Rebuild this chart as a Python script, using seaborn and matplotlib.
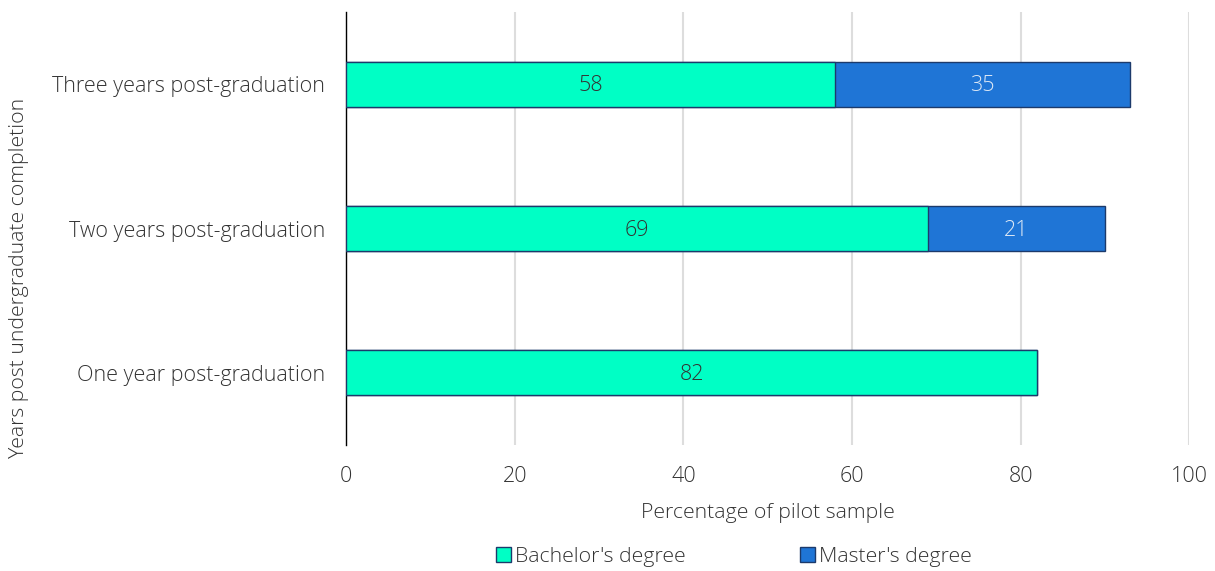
import matplotlib
matplotlib.use("Agg")
import matplotlib.pyplot as plt
import seaborn as sns
import pandas as pd
from matplotlib.patches import Patch

categories = ["Three years post-graduation", "Two years post-graduation", "One year post-graduation"]
bachelor = [58, 69, 82]
master = [35, 21, 0]
x_ticks = [0, 20, 40, 60, 80, 100]

sns.set_theme(style="white")
plt.rcParams['font.family'] = ['Open Sans', 'DejaVu Sans']
plt.rcParams['font.weight'] = 'light'
plt.rcParams['axes.labelweight'] = 'light'

c_bach = "#00FFC5"
c_mast = "#1F75D6"
edge = "#1C3A6B"
txt = "#333333"
FS = 15.5
FL = 15.3

df = pd.DataFrame({"cat": categories, "bachelor": bachelor, "master": master})
df["total"] = df["bachelor"] + df["master"]

fig = plt.figure(figsize=(12.15, 5.71), dpi=100)
ax = fig.add_axes([0.2848, 0.2207, 0.694, 0.758])

sns.barplot(data=df, x="total", y="cat", color=c_mast, orient="h", width=0.31,
            edgecolor=edge, linewidth=1, saturation=1, ax=ax, zorder=3)
sns.barplot(data=df, x="bachelor", y="cat", color=c_bach, orient="h", width=0.31,
            edgecolor=edge, linewidth=1, saturation=1, ax=ax, zorder=4)

for i, row in df.iterrows():
    ax.text(row["bachelor"] / 2, i + 0.01, f"{row['bachelor']}", ha="center", va="center",
            fontsize=FS, color=txt, fontweight="light", zorder=5)
    if row["master"] > 0:
        ax.text(row["bachelor"] + row["master"] / 2, i + 0.01, f"{row['master']}", ha="center",
                va="center", fontsize=FS, color="#DDE8F5", fontweight="light", zorder=5)

ax.set_xlim(0, 100)
ax.set_ylim(2.5, -0.5)
ax.set_xticks(x_ticks)
ax.set_xticklabels([str(t) for t in x_ticks])
ax.grid(axis="x", color="#DDDDDD", linewidth=1.5, zorder=0)
ax.set_axisbelow(True)
for s in ["top", "right", "bottom"]:
    ax.spines[s].set_visible(False)
ax.spines["left"].set_color("black")
ax.spines["left"].set_linewidth(1)
ax.tick_params(axis="both", length=0, labelsize=FS, labelcolor=txt)
ax.tick_params(axis="x", pad=15)
ax.tick_params(axis="y", pad=15)
ax.set_xlabel("Percentage of pilot sample", fontsize=FL, color=txt, fontweight="light", labelpad=12)
ax.set_ylabel("Years post undergraduate completion", fontsize=FL, color=txt, fontweight="light")
ax.yaxis.set_label_coords(-0.376, 0.386)

handles = [Patch(facecolor=c_bach, edgecolor=edge, label="Bachelor's degree"),
           Patch(facecolor=c_mast, edgecolor=edge, label="Master's degree")]
fig.legend(handles=handles, loc="center", bbox_to_anchor=(0.604, 0.024), ncol=2,
           frameon=False, prop={"size": FL, "weight": "light", "family": ["Open Sans", "DejaVu Sans"]},
           handlelength=0.7, handleheight=0.7,
           handletextpad=0.2, columnspacing=5.4, labelcolor=txt)

fig.savefig("out.png", dpi=100)
